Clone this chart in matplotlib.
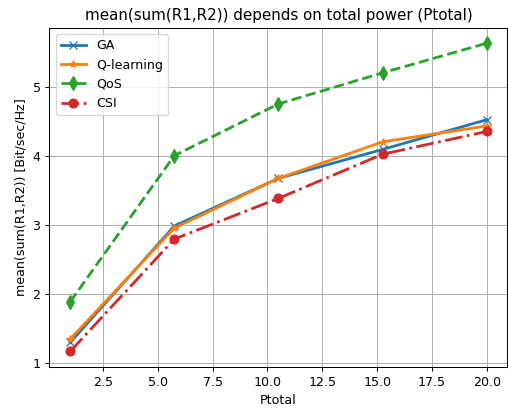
import matplotlib
matplotlib.use('Agg')
import matplotlib.pyplot as plt
import numpy as np

# total power values
ptotal = [1.0, 5.75, 10.5, 15.25, 20.0]

ga = [1.30, 2.99, 3.68, 4.10, 4.53]
q_learning = [1.35, 2.96, 3.68, 4.21, 4.44]
qos = [1.89, 4.01, 4.76, 5.21, 5.64]
csi = [1.17, 2.80, 3.39, 4.03, 4.36]

dpi = 91
fig, ax = plt.subplots(figsize=(509 / dpi, 409 / dpi), dpi=dpi)
ax.plot(ptotal, ga, marker='x', linestyle='-', linewidth=2.2, markersize=6, label='GA')
ax.plot(ptotal, q_learning, marker='*', linestyle='-', linewidth=2.2, markersize=6, label='Q-learning')
ax.plot(ptotal, qos, marker='d', linestyle='--', linewidth=2.2, markersize=8, label='QoS')
ax.plot(ptotal, csi, marker='o', linestyle='-.', linewidth=2.2, markersize=7, label='CSI')

ax.set_title('mean(sum(R1,R2)) depends on total power (Ptotal)')
ax.set_xlabel('Ptotal')
ax.set_ylabel('mean(sum(R1,R2)) [Bit/sec/Hz]')
ax.grid(True)
ax.legend(loc='upper left')

plt.subplots_adjust(left=0.097, right=0.997, top=0.932, bottom=0.103)
fig.savefig('out.png', dpi=dpi)
